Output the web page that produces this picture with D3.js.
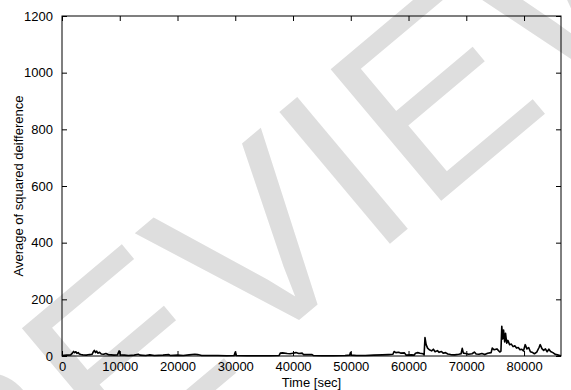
<!DOCTYPE html>
<html>
<head>
<meta charset="utf-8">
<script src="https://cdn.jsdelivr.net/npm/d3@7"></script>
<style>
  body { margin: 0; background: #fff; }
  svg { display: block; }
  text { font-family: "Liberation Sans", Arial, sans-serif; }
</style>
</head>
<body>
<svg id="chart" width="571" height="390"></svg>
<script>
"use strict";

var times = [0, 800, 1500, 1800, 2000, 2200, 2400, 2600, 2800, 3000, 3300, 3600, 4200, 4800, 5200, 5400, 5600, 5800, 6000, 6200,
  6500, 6800, 7200, 7600, 8000, 8500, 9000, 9600, 9900, 10100, 10800, 11500, 12500, 13200, 13500, 14500, 15200, 16000, 17500, 18500,
  18700, 20000, 21000, 22000, 23000, 23500, 24200, 25500, 27000, 28500, 29800, 30000, 30200, 32000, 34000, 36000, 37600, 37800, 38200, 39000,
  39500, 40000, 40500, 41000, 41600, 41800, 43300, 43500, 45000, 47000, 49000, 49800, 49950, 50100, 51000, 52500, 54000, 55500, 56500, 57300,
  57500, 57800, 58300, 58700, 59300, 59600, 60500, 61000, 61200, 61600, 62000, 62500, 62700, 62850, 63050, 63300, 63600, 64000, 64300, 64600,
  65000, 65300, 65700, 66000, 66400, 66800, 67300, 68000, 68700, 69100, 69300, 69500, 69900, 70400, 71000, 71400, 71700, 72200, 72700, 73200,
  73700, 74300, 74500, 74800, 75300, 75800, 76000, 76150, 76300, 76450, 76650, 76800, 77000, 77200, 77500, 77800, 78100, 78400, 78700, 79000,
  79300, 79600, 79900, 80200, 80500, 80800, 81100, 81500, 81800, 82200, 82600, 82800, 83100, 83400, 83700, 84000, 84300, 84600, 85000, 85400,
  85800, 86200, 86400];
var avgSqDiff = [2, 3, 4, 10, 16, 12, 15, 9, 12, 7, 5, 4, 3, 5, 6, 14, 20, 12, 17, 10,
  13, 7, 6, 9, 5, 4, 3, 4, 18, 4, 3, 2, 3, 6, 3, 2, 4, 2, 3, 5,
  2, 3, 2, 4, 6, 5, 2, 2, 2, 1, 2, 14, 2, 1, 1, 1, 2, 10, 11, 9,
  8, 10, 12, 9, 10, 5, 5, 2, 1, 1, 2, 3, 12, 3, 2, 2, 3, 4, 5, 6,
  16, 12, 13, 10, 11, 3, 4, 3, 10, 12, 10, 8, 4, 65, 40, 28, 22, 18, 24, 15,
  19, 13, 16, 10, 12, 7, 5, 4, 6, 8, 27, 10, 9, 6, 8, 14, 7, 6, 9, 5,
  10, 12, 28, 22, 25, 14, 17, 105, 60, 92, 50, 80, 45, 55, 40, 42, 33, 36, 28, 30,
  22, 24, 18, 40, 25, 30, 15, 12, 8, 14, 30, 40, 26, 20, 25, 15, 24, 16, 12, 6,
  4, 2, 1];

var xTicks = [0, 10000, 20000, 30000, 40000, 50000, 60000, 70000, 80000];
var yTicks = [0, 200, 400, 600, 800, 1000, 1200];

var svg = d3.select("#chart");
var W = 571, H = 390;
var margin = { left: 62, right: 10, top: 16, bottom: 34 };
var plotW = W - margin.left - margin.right;
var plotH = H - margin.top - margin.bottom;
var TICK = 5;

// watermark behind the chart
svg.append("text")
  .attr("transform", "translate(300,205) rotate(-40)")
  .attr("text-anchor", "middle")
  .attr("dy", "0.35em")
  .attr("font-size", 250)
  .attr("fill", "#dedede")
  .text("REVIEW");

var x = d3.scaleLinear().domain([0, 86400]).range([0, plotW]);
var y = d3.scaleLinear().domain([0, 1200]).range([plotH, 0]);

var g = svg.append("g").attr("transform", "translate(" + margin.left + "," + margin.top + ")");

var line = d3.line()
  .x(function (d, i) { return x(times[i]); })
  .y(function (d) { return y(d); });

g.append("path")
  .datum(avgSqDiff)
  .attr("fill", "none")
  .attr("stroke", "#000")
  .attr("stroke-width", 1.6)
  .attr("stroke-linejoin", "round")
  .attr("d", line);

function styleAxis(sel, showLabels) {
  sel.select(".domain").remove();
  sel.selectAll(".tick line").attr("stroke", "#000");
  sel.selectAll(".tick text").attr("font-size", 13).attr("fill", "#000");
  if (!showLabels) sel.selectAll(".tick text").remove();
}

// ticks point inwards, mirrored on top and right like gnuplot
g.append("g").attr("transform", "translate(0," + plotH + ")")
  .call(d3.axisBottom(x).tickValues(xTicks).tickFormat(d3.format("d")).tickSizeInner(-TICK).tickPadding(6))
  .call(styleAxis, true);
g.append("g")
  .call(d3.axisTop(x).tickValues(xTicks).tickSizeInner(-TICK))
  .call(styleAxis, false);
g.append("g")
  .call(d3.axisLeft(y).tickValues(yTicks).tickFormat(d3.format("d")).tickSizeInner(-TICK).tickPadding(9))
  .call(styleAxis, true);
g.append("g").attr("transform", "translate(" + plotW + ",0)")
  .call(d3.axisRight(y).tickValues(yTicks).tickSizeInner(-TICK))
  .call(styleAxis, false);

g.append("rect")
  .attr("width", plotW).attr("height", plotH)
  .attr("fill", "none").attr("stroke", "#000").attr("stroke-width", 1);

svg.append("text")
  .attr("x", margin.left + plotW / 2).attr("y", 387)
  .attr("text-anchor", "middle").attr("font-size", 13)
  .text("Time [sec]");

svg.append("text")
  .attr("transform", "translate(23," + (margin.top + plotH / 2) + ") rotate(-90)")
  .attr("text-anchor", "middle").attr("font-size", 13)
  .text("Average of squared deifference");
</script>
</body>
</html>
